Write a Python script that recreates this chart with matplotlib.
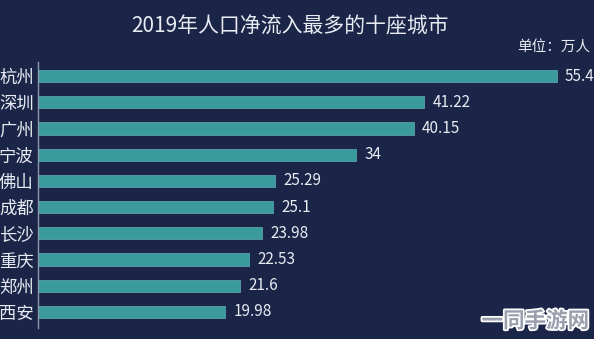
import matplotlib
matplotlib.use("Agg")
import matplotlib.pyplot as plt
import matplotlib.patheffects as pe

plt.rcParams['font.family'] = ['Noto Sans CJK SC', 'DejaVu Sans']

cities = ['杭州', '深圳', '广州', '宁波', '佛山', '成都', '长沙', '重庆', '郑州', '西安']
values = [55.4, 41.22, 40.15, 34, 25.29, 25.1, 23.98, 22.53, 21.6, 19.98]
labels = ['55.4', '41.22', '40.15', '34', '25.29', '25.1', '23.98', '22.53', '21.6', '19.98']

bg = '#1b2548'
bar_color = '#3b9a9c'
text_color = '#e8ebf2'

W, H = 594, 339
fig = plt.figure(figsize=(W / 100, H / 100), dpi=100, facecolor=bg)
ax = fig.add_axes([38 / W, 1 - 325 / H, 1 - 38 / W, 262 / H], facecolor=bg)

y = list(range(len(cities)))
ax.barh(y, values, height=0.46, color=bar_color, edgecolor='#6fc3c4', linewidth=0.4)
ax.set_xlim(0, 59.4)
ax.set_ylim(9.5, -0.5)

for i, (v, lab) in enumerate(zip(values, labels)):
    ax.text(v + 0.9, i, lab, color=text_color, fontsize=11, va='center', ha='left', clip_on=False)

ax.set_yticks(y)
ax.set_yticklabels(cities, color=text_color, fontsize=12.5)
ax.tick_params(axis='y', length=0, pad=3)
ax.set_xticks([])
for s in ['top', 'right', 'bottom']:
    ax.spines[s].set_visible(False)
ax.spines['left'].set_color('#8d97ad')
ax.spines['left'].set_linewidth(1.0)
ax.spines['left'].set_bounds(-0.55, 9.6)

fig.text(290 / W, 1 - 27 / H, '2019年人口净流入最多的十座城市', color=text_color,
         fontsize=15, ha='center', va='center')
fig.text(517 / W, 1 - 48 / H, '单位：万人', color=text_color, fontsize=10.5,
         ha='left', va='center')

wm = fig.text(589 / W, 1 - 321 / H, '一同手游网', color='#9aa0ad', fontsize=15.5,
              ha='right', va='center', fontweight='bold')
wm.set_path_effects([pe.withStroke(linewidth=2.5, foreground='white')])

fig.savefig('out.png', dpi=100, facecolor=bg)
